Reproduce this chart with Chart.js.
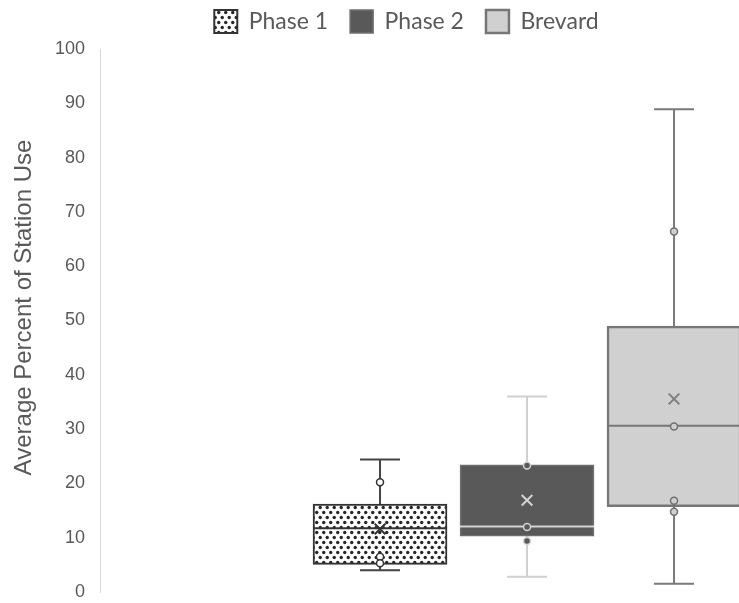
<!DOCTYPE html>
<html>
<head>
<meta charset="utf-8">
<script src="https://cdn.jsdelivr.net/npm/chart.js@4/dist/chart.umd.min.js"></script>
<style>
  html, body { margin: 0; padding: 0; background: #ffffff; }
  canvas { display: block; }
</style>
</head>
<body>
<canvas id="c" width="739" height="603"></canvas>
<script>
// ---- data ----
const categories = ['Phase 1', 'Phase 2', 'Brevard'];
const mins    = [4.0, 2.8, 1.5];
const q1s     = [5.1, 10.3, 15.7];
const medians = [11.75, 12.05, 30.6];
const q3s     = [16.2, 23.4, 48.95];
const maxs    = [24.4, 36.0, 88.9];
const means   = [11.6, 16.9, 35.55];
const innerPoints = [
  [20.2, 6.5, 5.3],
  [23.3, 11.95, 9.4],
  [66.4, 30.5, 16.8, 14.8]
];
const yTickMin = 0, yTickMax = 100, yTickStep = 10;
const yTitle = 'Average Percent of Station Use';

// ---- styles ----
const positions = categories.map((_, i) => i + 1);
const boxHalf = 0.456;   // half box width in x-units
const capHalf = 0.136;   // half cap width in x-units

const canvas = document.getElementById('c');
const ctx = canvas.getContext('2d');

function dotPattern() {
  const p = document.createElement('canvas');
  p.width = 7; p.height = 10;
  const g = p.getContext('2d');
  g.fillStyle = '#ffffff';
  g.fillRect(0, 0, 7, 10);
  g.fillStyle = '#262626';
  [[1.75, 2.5], [5.25, 7.5]].forEach(([x, y]) => {
    g.beginPath(); g.arc(x, y, 1.7, 0, Math.PI * 2); g.fill();
  });
  return ctx.createPattern(p, 'repeat');
}

const styles = [
  { fill: dotPattern(), border: '#333333', bw: 2, whisker: '#444444', median: '#333333',
    ptBorder: '#333333', ptFill: '#ffffff', mean: '#333333' },
  { fill: '#595959', border: '#707070', bw: 1.5, whisker: '#d0d0d0', median: '#d4d4d4',
    ptBorder: '#d4d4d4', ptFill: '#595959', mean: '#d4d4d4' },
  { fill: '#d0d0d0', border: '#767676', bw: 2.5, whisker: '#7a7a7a', median: '#767676',
    ptBorder: '#707070', ptFill: '#d0d0d0', mean: '#808080' }
];

const datasets = [];
// boxes (legend entries)
categories.forEach((name, i) => {
  datasets.push({
    type: 'bar', label: name, order: 2,
    data: [{ x: positions[i], y: [q1s[i], q3s[i]] }],
    backgroundColor: styles[i].fill, borderColor: styles[i].border,
    borderWidth: styles[i].bw, borderSkipped: false,
    barThickness: 134, grouped: false
  });
});
// whiskers + caps (behind boxes)
categories.forEach((name, i) => {
  const x = positions[i];
  datasets.push({
    type: 'line', label: name + ' whisker', order: 3,
    data: [
      { x: x - capHalf, y: maxs[i] }, { x: x + capHalf, y: maxs[i] }, { x: x, y: null },
      { x: x, y: maxs[i] }, { x: x, y: mins[i] }, { x: x, y: null },
      { x: x - capHalf, y: mins[i] }, { x: x + capHalf, y: mins[i] }
    ],
    borderColor: styles[i].whisker, borderWidth: 2, pointRadius: 0,
    spanGaps: false, fill: false, tension: 0
  });
});
// medians
categories.forEach((name, i) => {
  const x = positions[i];
  datasets.push({
    type: 'line', label: name + ' median', order: 1,
    data: [{ x: x - boxHalf, y: medians[i] }, { x: x + boxHalf, y: medians[i] }],
    borderColor: styles[i].median, borderWidth: 2, pointRadius: 0, fill: false
  });
});
// inner points
categories.forEach((name, i) => {
  datasets.push({
    type: 'scatter', label: name + ' points', order: 0,
    data: innerPoints[i].map(v => ({ x: positions[i], y: v })),
    pointStyle: 'circle', pointRadius: 3.5, pointBorderWidth: 1.5,
    pointBorderColor: styles[i].ptBorder, pointBackgroundColor: styles[i].ptFill,
    showLine: false
  });
});
// means
categories.forEach((name, i) => {
  datasets.push({
    type: 'scatter', label: name + ' mean', order: 0,
    data: [{ x: positions[i], y: means[i] }],
    pointStyle: 'crossRot', pointRadius: 7.5, pointBorderWidth: 2,
    pointBorderColor: styles[i].mean, showLine: false
  });
});

const layoutTweak = {
  id: 'layoutTweak',
  beforeLayout(chart) {
    const lg = chart.legend;
    if (lg && !lg._patched) {
      const fit = lg.fit;
      lg.fit = function () { fit.apply(this, arguments); this.height = 49; };
      lg._patched = true;
    }
  },
  afterLayout(chart) {
    const lg = chart.legend;
    if (lg) {
      lg.top -= 12; lg.bottom -= 12;
      lg.left += 37; lg.right += 37;
    }
  }
};

new Chart(ctx, {
  data: { datasets },
  plugins: [layoutTweak],
  options: {
    responsive: false,
    animation: false,
    devicePixelRatio: 1,
    layout: { autoPadding: false, padding: { left: 0, right: 0, top: 0, bottom: 11 } },
    plugins: {
      tooltip: { enabled: false },
      legend: {
        position: 'top',
        labels: {
          filter: (item) => item.datasetIndex < categories.length,
          boxWidth: 23, boxHeight: 23, padding: 22,
          color: '#595959',
          font: { family: 'Lato', size: 23 }
        }
      }
    },
    scales: {
      x: {
        type: 'linear', min: -0.905, max: 3.442, display: false, offset: false,
        grid: { offset: false }
      },
      y: {
        type: 'linear', min: yTickMin, max: yTickMax,
        ticks: { stepSize: yTickStep, color: '#595959', padding: 0,
                 font: { family: 'Liberation Sans', size: 18 } },
        grid: { display: true, drawOnChartArea: false, drawTicks: true,
                tickLength: 15, tickColor: 'rgba(0,0,0,0)' },
        border: { display: true, color: '#d9d9d9', width: 1 },
        title: { display: true, text: yTitle, color: '#595959',
                 font: { family: 'Liberation Sans', size: 24 }, padding: { top: 10, bottom: 0 } },
        afterFit(scale) {
          scale.width = 100;
          if (!scale._titlePatched) {
            const d = scale.drawTitle;
            scale.drawTitle = function () {
              this.top -= 13; this.bottom -= 13;
              d.apply(this, arguments);
              this.top += 13; this.bottom += 13;
            };
            scale._titlePatched = true;
          }
        }
      }
    }
  }
});
</script>
</body>
</html>
